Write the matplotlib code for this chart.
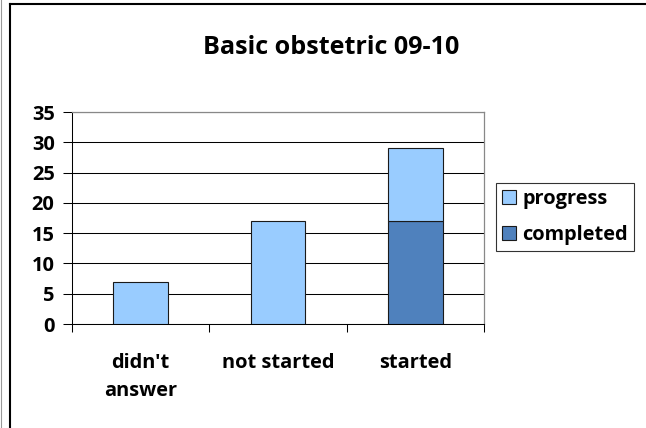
import matplotlib
matplotlib.use('Agg')
import matplotlib.pyplot as plt
from matplotlib.font_manager import FontProperties
from matplotlib.textpath import TextPath
import numpy as np

categories = ["didn't\nanswer", "not started", "started"]
completed = [0, 0, 17]
progress = [7, 17, 12]
yticks = [0, 5, 10, 15, 20, 25, 30, 35]

FAMILY = ['Open Sans', 'DejaVu Sans']
plt.rcParams['font.family'] = FAMILY
plt.rcParams['font.weight'] = 'bold'

W, H, DPI = 646, 428, 100


def fit_size(text, width_px):
    # font size (pt) that makes text about width_px wide
    fp = FontProperties(family=FAMILY, weight='bold')
    w = TextPath((0, 0), text, size=10, prop=fp).get_extents().width * DPI / 72
    return 10 * width_px / w


label_size = fit_size('not started', 109)
title_size = fit_size('Basic obstetric 09-10', 253)

fig = plt.figure(figsize=(W / DPI, H / DPI), dpi=DPI)

# outer chart frame, only its left and top edges are in view
fig.add_artist(plt.Line2D([10 / W, 10 / W], [0, 1 - 4 / H], color='black', lw=1.5))
fig.add_artist(plt.Line2D([10 / W, 1], [1 - 4 / H, 1 - 4 / H], color='black', lw=1.5))
fig.add_artist(plt.Line2D([0.7 / W, 0.7 / W], [0, 1], color='#999999', lw=0.8))

ax = fig.add_axes([72 / W, 1 - 324 / H, 412 / W, 212 / H])
x = np.arange(len(categories))
ax.bar(x, completed, width=0.4, color='#4F81BD', edgecolor='#1a1a1a', lw=0.8,
       label='completed', zorder=3)
ax.bar(x, progress, width=0.4, bottom=completed, color='#99CCFF', edgecolor='#1a1a1a',
       lw=0.8, label='progress', zorder=3)

ax.set_xlim(-0.5, 2.5)
ax.set_ylim(0, 35)
ax.set_yticks(yticks)
ax.yaxis.grid(True, color='black', lw=0.75, zorder=0)
ax.set_xticks(x)
ax.set_xticklabels(categories, fontsize=label_size, fontweight='bold', linespacing=1.55)
ax.set_xticks([-0.5, 0.5, 1.5, 2.5], minor=True)
ax.tick_params(axis='x', which='major', length=0, pad=21)
ax.tick_params(axis='x', which='minor', length=6, width=0.75)
ax.tick_params(axis='y', length=6.5, width=0.75, labelsize=label_size, pad=6)
for lbl in ax.get_yticklabels():
    lbl.set_fontweight('bold')
for side in ['top', 'right']:
    ax.spines[side].set_color('#888888')
    ax.spines[side].set_linewidth(0.9)
ax.spines['left'].set_linewidth(0.75)
ax.spines['bottom'].set_linewidth(0.75)

handles, labels = ax.get_legend_handles_labels()
em = label_size * DPI / 72
leg = fig.legend(handles[::-1], labels[::-1], loc='center',
                 bbox_to_anchor=(565 / W, 1 - 217 / H),
                 prop={'size': label_size, 'weight': 'bold'}, frameon=True,
                 fancybox=False, edgecolor='black', handlelength=14 / em,
                 handleheight=14 / em, handletextpad=6 / em, borderpad=0.32,
                 labelspacing=0.8, borderaxespad=0)
leg.get_frame().set_linewidth(0.8)

fig.text(331.5 / W, 1 - 54.5 / H, 'Basic obstetric 09-10', ha='center', va='baseline',
         fontsize=title_size, fontweight='bold')

fig.savefig('out.png', dpi=DPI)
